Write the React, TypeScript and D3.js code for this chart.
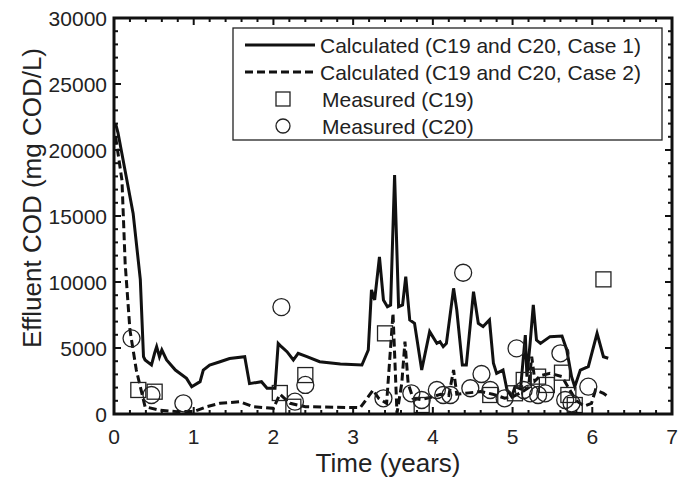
import React from "react";
import * as d3 from "d3";

const case1Time = [0.02, 0.05, 0.24, 0.33, 0.37, 0.39, 0.47, 0.51, 0.535, 0.57, 0.6, 0.66, 0.77, 0.91, 0.975, 1.08, 1.12, 1.2, 1.33, 1.45, 1.64, 1.7, 1.85, 1.92, 2.02, 2.06, 2.1, 2.17, 2.25, 2.31, 2.42, 2.58, 2.84, 3.11, 3.19, 3.23, 3.27, 3.33, 3.38, 3.43, 3.47, 3.52, 3.57, 3.62, 3.66, 3.71, 3.77, 3.86, 3.96, 4.05, 4.09, 4.13, 4.17, 4.26, 4.3, 4.37, 4.42, 4.51, 4.57, 4.63, 4.71, 4.76, 4.8, 4.88, 4.93, 4.99, 5.03, 5.1, 5.16, 5.18, 5.22, 5.26, 5.3, 5.35, 5.47, 5.62, 5.68, 5.74, 5.78, 5.85, 5.95, 6.06, 6.14, 6.2];
const case1COD = [22000, 21300, 15200, 10200, 4340, 4090, 3710, 4620, 5100, 4340, 4850, 4090, 3330, 2700, 2070, 2450, 3330, 3710, 3960, 4200, 4340, 2300, 2450, 1950, 1950, 5350, 5100, 4720, 4090, 4600, 4340, 3960, 3790, 3710, 4850, 9400, 8640, 11900, 8640, 8130, 8260, 18100, 8130, 8260, 10400, 7120, 6870, 3330, 6240, 5350, 5480, 5100, 5350, 9520, 7880, 3710, 3710, 9270, 6870, 6620, 7120, 3840, 3080, 3330, 1820, 1310, 2070, 1900, 5980, 2830, 5350, 8260, 5600, 5350, 5860, 5900, 4850, 2830, 2070, 3330, 3590, 6110, 4340, 4220];

const case2Time = [0.02, 0.1, 0.14, 0.2, 0.28, 0.35, 0.39, 0.56, 0.79, 1.0, 1.16, 1.33, 1.58, 1.75, 2.0, 2.08, 2.21, 2.4, 3.09, 3.19, 3.25, 3.32, 3.42, 3.5, 3.55, 3.61, 3.65, 3.69, 3.75, 3.85, 4.0, 4.1, 4.2, 4.26, 4.3, 4.45, 4.6, 4.75, 4.9, 5.0, 5.1, 5.2, 5.24, 5.28, 5.35, 5.47, 5.62, 5.7, 5.8, 5.9, 5.99, 6.04, 6.14, 6.2];
const case2COD = [21000, 17700, 11400, 6360, 3330, 1560, 550, 300, 180, 180, 550, 810, 930, 550, 430, 1500, 810, 550, 480, 1310, 1820, 1190, 810, 7630, 50, 2320, 5480, 2320, 1200, 1100, 1300, 1500, 1400, 3330, 1500, 1600, 1700, 1500, 1200, 1300, 1600, 2000, 4340, 2500, 2900, 3080, 2830, 2000, 1000, 600, 810, 1820, 1570, 1310];

const c19Time = [0.305, 0.51, 2.08, 2.25, 2.4, 3.4, 3.86, 4.72, 5.03, 5.14, 5.32, 5.43, 5.62, 5.7, 5.78, 6.14];
const c19COD = [1820, 1690, 1590, 550, 2950, 6110, 680, 1440, 1570, 2580, 2830, 2200, 3130, 1440, 680, 10200];

const c20Time = [0.22, 0.47, 0.87, 2.1, 2.27, 2.4, 3.38, 3.73, 3.86, 4.05, 4.13, 4.22, 4.38, 4.47, 4.61, 4.72, 4.9, 5.05, 5.14, 5.22, 5.32, 5.41, 5.6, 5.66, 5.74, 5.95];
const c20COD = [5730, 1440, 810, 8100, 930, 2200, 1190, 1570, 1060, 1820, 1440, 1440, 10700, 1950, 3030, 1820, 1190, 4970, 1820, 1570, 1440, 1570, 4600, 1060, 810, 2070];

const xTicks = [0, 1, 2, 3, 4, 5, 6, 7];
const yTicks = [0, 5000, 10000, 15000, 20000, 25000, 30000];
const legendLabels = [
  "Calculated (C19 and C20, Case 1)",
  "Calculated (C19 and C20, Case 2)",
  "Measured (C19)",
  "Measured (C20)",
];

const W = 684, H = 480;
const L = 114, R = 672, T = 18, B = 414;
const FONT = "'Liberation Sans', Arial, Helvetica, sans-serif";

export default function App() {
  const x = d3.scaleLinear().domain([0, 7]).range([L, R]);
  const y = d3.scaleLinear().domain([0, 30000]).range([B, T]);
  const mk = (ts: number[], vs: number[]) =>
    d3.line<number>().x((t) => x(t)).y((_, i) => y(vs[i]))(ts) || "";
  const xMinor = d3.range(0, 7.0001, 0.2).filter((v) => Math.abs(v - Math.round(v)) > 1e-6);
  const yMinor = d3.range(0, 30001, 1000).filter((v) => v % 5000 !== 0);
  const legRows = [45, 72, 99, 126];
  return (
    <svg width={W} height={H} style={{ position: "absolute", left: 0, top: 0 }} fontFamily={FONT}>
      <rect width={W} height={H} fill="#fff" />
      <path d={mk(case1Time, case1COD)} fill="none" stroke="#111" strokeWidth={3} strokeLinejoin="miter" />
      <path d={mk(case2Time, case2COD)} fill="none" stroke="#111" strokeWidth={3} strokeDasharray="8,4" />
      {c19Time.map((t, i) => (
        <rect key={"s" + i} x={x(t) - 7.5} y={y(c19COD[i]) - 7.5} width={15} height={15} fill="none" stroke="#222" strokeWidth={1.3} />
      ))}
      {c20Time.map((t, i) => (
        <circle key={"c" + i} cx={x(t)} cy={y(c20COD[i])} r={8.5} fill="none" stroke="#222" strokeWidth={1.3} />
      ))}
      {xTicks.map((t) => (
        <g key={"xt" + t}>
          <line x1={x(t)} x2={x(t)} y1={B} y2={B - 7} stroke="#111" strokeWidth={2} />
          <line x1={x(t)} x2={x(t)} y1={T} y2={T + 7} stroke="#111" strokeWidth={2} />
          <text x={x(t)} y={B + 30} fontSize={21} textAnchor="middle" fill="#222">{t}</text>
        </g>
      ))}
      {xMinor.map((t, i) => (
        <g key={"xm" + i}>
          <line x1={x(t)} x2={x(t)} y1={B} y2={B - 4} stroke="#111" strokeWidth={2} />
          <line x1={x(t)} x2={x(t)} y1={T} y2={T + 4} stroke="#111" strokeWidth={2} />
        </g>
      ))}
      {yTicks.map((v) => (
        <g key={"yt" + v}>
          <line x1={L} x2={L + 7} y1={y(v)} y2={y(v)} stroke="#111" strokeWidth={2} />
          <line x1={R} x2={R - 7} y1={y(v)} y2={y(v)} stroke="#111" strokeWidth={2} />
          <text x={L - 7} y={y(v) + 7.5} fontSize={21} textAnchor="end" fill="#222">{v}</text>
        </g>
      ))}
      {yMinor.map((v, i) => (
        <g key={"ym" + i}>
          <line x1={L} x2={L + 4} y1={y(v)} y2={y(v)} stroke="#111" strokeWidth={2} />
          <line x1={R} x2={R - 4} y1={y(v)} y2={y(v)} stroke="#111" strokeWidth={2} />
        </g>
      ))}
      <rect x={L} y={T} width={R - L} height={B - T} fill="none" stroke="#111" strokeWidth={3} />
      <rect x={233} y={28} width={429} height={112} fill="#fff" stroke="#222" strokeWidth={1.3} />
      <line x1={245} x2={315} y1={legRows[0]} y2={legRows[0]} stroke="#111" strokeWidth={3} />
      <line x1={245} x2={315} y1={legRows[1]} y2={legRows[1]} stroke="#111" strokeWidth={3} strokeDasharray="8,4" />
      <rect x={283 - 7} y={legRows[2] - 7} width={14} height={14} fill="none" stroke="#222" strokeWidth={1.3} />
      <circle cx={283} cy={legRows[3]} r={7} fill="none" stroke="#222" strokeWidth={1.3} />
      {legendLabels.map((s, i) => (
        <text key={s} x={i < 2 ? 320 : 322} y={legRows[i] + 7.5} fontSize={21} fill="#222">{s}</text>
      ))}
      <text x={388} y={472} fontSize={26} textAnchor="middle" fill="#222">Time (years)</text>
      <text transform={`translate(41,198) rotate(-90)`} fontSize={26} textAnchor="middle" fill="#222">Effluent COD (mg COD/L)</text>
    </svg>
  );
}
